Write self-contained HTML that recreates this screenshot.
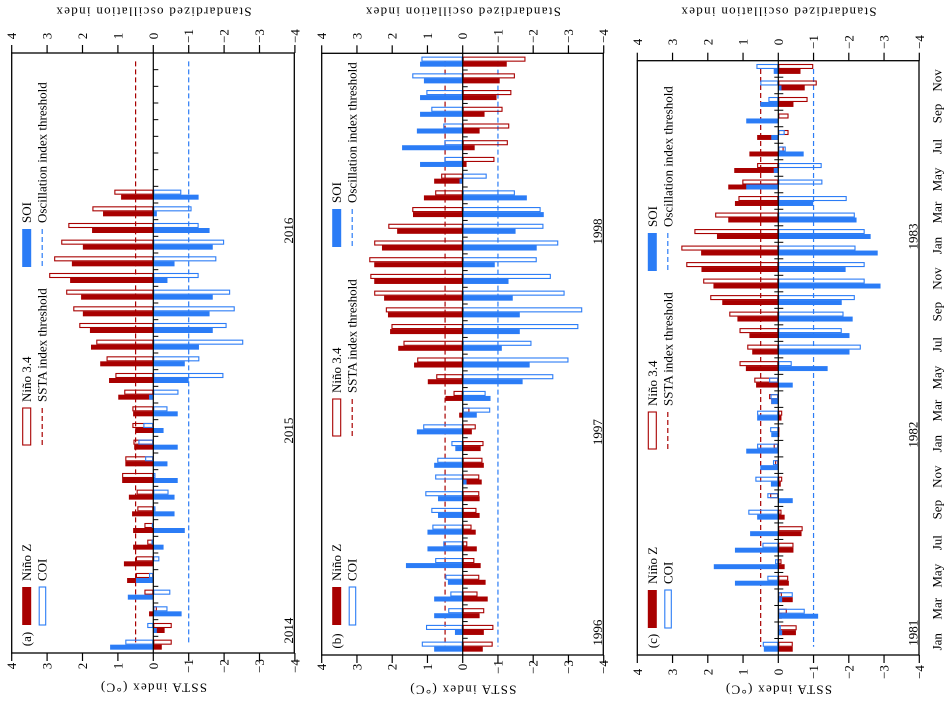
<!DOCTYPE html>
<html><head><meta charset="utf-8"><style>
html,body{margin:0;padding:0;background:#fff}
svg{display:block}
text{font-family:"Liberation Serif",serif;fill:#000}
</style></head><body>
<svg id="fig" width="951" height="701" viewBox="0 0 951 701" xmlns="http://www.w3.org/2000/svg"></svg>
<script>
// Panel (a) 2014-2016
const aNinoZ=[-0.24,-0.32,0.12,0,0.74,0.83,0.57,0.57,0.6,0.69,0.88,0.79,0.54,0.51,0.57,0.99,1.25,1.5,1.76,1.79,1.99,2.04,2.35,2.3,1.99,1.73,1.42,0.91,null,null,null,null,null,null,null,null];
const aNino34=[-0.52,-0.52,-0.1,0.25,0.49,0.49,0.17,0.25,0.45,0.47,0.88,0.79,0.56,0.59,0.59,0.82,1.07,1.32,1.61,2.09,2.26,2.46,2.94,2.8,2.6,2.4,1.72,1.1,null,null,null,null,null,null,null,null];
const aCOI=[0.79,0.17,-0.4,-0.48,0.12,-0.17,0.05,0.04,-0.06,-0.43,-0.06,0.23,0.42,0.28,-0.4,-0.71,-1.98,-1.3,-2.54,-2.07,-2.3,-2.17,-1.28,-1.78,-2.0,-1.28,-1.08,-0.79,null,null,null,null,null,null,null,null];
const aSOI=[1.22,-0.1,-0.8,0.72,0.49,0,-0.29,-0.89,-0.6,-0.6,-0.69,-0.4,-0.69,-0.29,-0.69,0.12,-1.0,-0.89,-1.29,-1.68,-1.59,-1.68,-0.4,-0.6,-1.68,-1.59,-0.1,-1.28,null,null,null,null,null,null,null,null];
// Panel (b) 1996-1998
const bNinoZ=[-0.57,-0.6,-0.48,-0.71,-0.65,-0.51,-0.4,-0.37,-0.48,-0.48,-0.54,-0.6,-0.51,-0.26,0.1,0.49,0.99,1.38,1.83,2.06,2.12,2.23,2.51,2.51,2.29,1.86,1.41,1.1,0.81,-0.11,-0.34,-0.48,-0.62,-0.96,-1.05,-1.25];
const bNino34=[-0.85,-0.87,-0.61,-0.42,-0.47,-0.33,-0.13,-0.25,-0.39,-0.47,-0.47,-0.56,-0.59,-0.37,-0.19,0.26,0.75,1.29,1.68,2.02,2.18,2.51,2.62,2.65,2.51,2.11,1.43,0.78,0.61,-0.9,-1.28,-1.32,-1.13,-1.38,-1.48,-1.78];
const bCOI=[1.16,1.04,0.41,0.35,0.49,0.78,0.55,0.86,0.89,1.06,0.78,0.72,0.32,1.12,-0.78,-0.65,-2.57,-3.0,-1.95,-3.28,-3.39,-2.89,-2.5,-2.1,-2.71,-2.29,-2.21,-1.48,-0.68,0.52,0.52,0.55,0.89,1.03,1.43,1.17];
const bSOI=[0.81,0.22,0.81,0.81,0.42,1.61,1.0,1.0,0.7,0.7,-0.11,0.81,0.21,1.3,-0.4,-0.79,-1.7,-1.9,-1.11,-1.62,-1.62,-1.42,-1.3,-0.91,-2.1,-1.5,-2.3,-1.82,0.09,1.21,1.72,1.3,1.21,1.21,1.1,1.21];
// Panel (c) 1981-1983
const cNinoZ=[-0.41,-0.5,-0.1,-0.41,-0.3,-0.18,-0.43,-0.66,-0.18,0,-0.07,0,0,-0.03,-0.09,0.2,0.63,0.92,0.74,0.82,1.16,1.59,1.84,2.18,2.19,1.74,1.42,1.23,1.42,1.25,0.82,0.6,0,-0.43,-0.75,-0.63];
const cNino34=[-0.41,-0.52,-0.24,-0.1,-0.28,-0.09,-0.43,-0.69,-0.09,0.23,-0.11,0.09,0.13,-0.03,-0.11,0.26,0.68,1.1,0.88,1.1,1.39,1.93,2.13,2.61,2.75,2.38,1.79,1.13,1.02,0.6,-0.15,-0.29,-0.29,-0.83,-1.09,-0.99];
const cCOI=[0.44,-0.07,-0.75,-0.41,0.31,0.09,0.45,0,0.85,0.31,0.65,0.15,0.6,0.23,0.6,0.22,0.26,-0.38,-2.34,-1.8,-1.85,-2.17,-2.45,-2.45,-2.19,-2.45,-2.17,-1.94,-1.25,-1.23,-0.21,-0.18,0,0.28,0.51,0.62];
const cSOI=[0.41,-0.11,-1.13,-0.11,1.23,1.83,1.23,0.8,0.6,-0.41,0.21,0.51,0.91,0.2,0.6,0.2,-0.41,-1.4,-2.02,-2.02,-2.11,-1.8,-2.9,-1.91,-2.82,-2.62,-2.22,-0.99,0.91,0.13,-0.72,0.2,0.91,0.51,-0.09,0.13];
const tickVals=[4,3,2,1,0,-1,-2,-3,-4];
const monthNames=["Jan","Mar","May","Jul","Sep","Nov"];
const aYears=["2014","2015","2016"];
const bYears=["1996","1997","1998"];
const cYears=["1981","1982","1983"];

const RED="#a80000", BLUE="#2b7cf6";
const svg=document.getElementById('fig');
const NS="http://www.w3.org/2000/svg";
function mk(tag,attrs,parent){const e=document.createElementNS(NS,tag);for(const k in attrs)e.setAttribute(k,attrs[k]);(parent||svg).appendChild(e);return e;}
function vtext(x,y,str,size,anchor,rot,color,parent){
  const t=mk('text',{x:x,y:y,'font-size':size,'text-anchor':anchor,'dominant-baseline':'central',transform:'rotate('+rot+' '+x+' '+y+')',fill:color||'#000'},parent);
  t.textContent=str;return t;}

const panels=[
 {id:'a',L:11.7,Z:153.3,R:294.3,T:53,B:653,nz:aNinoZ,n34:aNino34,coi:aCOI,soi:aSOI,years:aYears,g1:28,g2:208,g3:386,tl:36,bl:666,both:false,months:false},
 {id:'b',L:321.7,Z:462.7,R:603.3,T:53.3,B:655,nz:bNinoZ,n34:bNino34,coi:bCOI,soi:bSOI,years:bYears,g1:30,g2:219,g3:408,tl:36,bl:667,both:false,months:false},
 {id:'c',L:637.3,Z:778.3,R:919,T:60.7,B:655,nz:cNinoZ,n34:cNino34,coi:cCOI,soi:cSOI,years:cYears,g1:27,g2:206,g3:384,tl:42,bl:672,both:true,months:true}
];

panels.forEach(p=>{
  const g=mk('g',{});
  
  
  const unit=(p.Z-p.L)/4;
  const xs=v=>p.Z-v*unit;
  const n=36, h=(p.B-p.T)/n;
  const yC=k=>p.B-(k+0.5)*h;
  const th1=mk('line',{x1:xs(0.5),x2:xs(0.5),y1:yC(35),y2:yC(0),stroke:RED,'stroke-width':1.2,'stroke-dasharray':'5,3'},g);
  
  
  const th2=mk('line',{x1:xs(-1),x2:xs(-1),y1:yC(35),y2:yC(0),stroke:BLUE,'stroke-width':1.2,'stroke-dasharray':'5,3'},g);
  
  
  const bw=0.3*h;
  function bar(v,yy,filled,color,name){
    if(v===null||v===undefined)return;
    const x0=Math.min(xs(v),p.Z), w=Math.abs(xs(v)-p.Z);
    const r=mk('rect',filled?{x:x0,y:yy,width:w,height:bw,fill:color}:{x:x0+0.5,y:yy+0.5,width:Math.max(w-1,0),height:bw-1,fill:'none',stroke:color,'stroke-width':1.1},g);
    
    
  }
  for(let k=0;k<n;k++){
    const c=yC(k);
    bar(p.n34[k],c-bw,false,RED,'nino34-bar');
    bar(p.coi[k],c-bw,false,BLUE,'coi-bar');
    bar(p.nz[k],c,true,RED,'ninoz-bar');
    bar(p.soi[k],c,true,BLUE,'soi-bar');
  }
  const zl=mk('line',{x1:p.Z,x2:p.Z,y1:p.T,y2:p.B,stroke:'#000','stroke-width':1.2},g);
  
  
  for(let k=1;k<n;k++){
    const y=p.B-k*h;
    mk('line',{x1:p.both?p.Z-4:p.Z,x2:p.Z+5,y1:y,y2:y,stroke:'#000','stroke-width':1},g);
  }
  const fr=mk('rect',{x:p.L,y:p.T,width:p.R-p.L,height:p.B-p.T,fill:'none',stroke:'#000','stroke-width':1.3},g);
  
  
  tickVals.forEach(v=>{
    const x=xs(v);
    mk('line',{x1:x,x2:x,y1:p.B,y2:p.B+8,stroke:'#000','stroke-width':1.2},g);
    mk('line',{x1:x,x2:x,y1:p.T,y2:p.T-8,stroke:'#000','stroke-width':1.2},g);
    const lbl=v<0?'\u2212'+(-v):String(v);
    const t1=vtext(x,p.bl,lbl,13,'middle',-90,'#000',g);
    
    
    const t2=vtext(x,p.tl,lbl,13,'middle',-90,'#000',g);
    
    
  });
  const at1=vtext(p.Z,p.B+35,'SSTA index (\u00b0C)',13,'middle',180,'#000',g);
  at1.setAttribute('letter-spacing','1.3');
  
  
  const at2=vtext(p.Z,12,'Standardized oscillation index',13,'middle',180,'#000',g);
  at2.setAttribute('letter-spacing','1.3');
  
  
  p.years.forEach((yr,i)=>{
    const t=vtext(p.R-6,yC(i*12)-1,yr,13,'start',-90,'#000',g);
    
    
  });
  if(p.months){
    for(let yi=0;yi<3;yi++)for(let m=0;m<6;m++){
      const k=yi*12+m*2;
      const t=vtext(937,yC(k)-5,monthNames[m],13,'middle',-90,'#222',g);
      
      
    }
  }
  const pt=vtext(p.L+15,p.B-14,'('+p.id+')',13,'middle',-90,'#444',g);
  
  
  const c1=p.L+15, c2=p.L+30.5;
  const r1=mk('rect',{x:c1-4.5,y:p.B-p.g1-38,width:9,height:38,fill:RED},g);
  
  
  const r2=mk('rect',{x:c2-3,y:p.B-p.g1-38,width:6.5,height:38,fill:'none',stroke:BLUE,'stroke-width':1.1},g);
  
  
  const lt1=vtext(c1,p.B-p.g1-44,'Ni\u00f1o Z',13,'start',-90,'#444',g);
  
  
  const lt2=vtext(c2,p.B-p.g1-44,'COI',13,'start',-90,'#444',g);
  
  
  const r3=mk('rect',{x:c1-4,y:p.B-p.g2-37,width:8,height:37,fill:'none',stroke:RED,'stroke-width':1.1},g);
  
  
  const d1=mk('line',{x1:c2,x2:c2,y1:p.B-p.g2-37,y2:p.B-p.g2,stroke:RED,'stroke-width':1.2,'stroke-dasharray':'5,3'},g);
  
  
  const lt3=vtext(c1,p.B-p.g2-43,'Ni\u00f1o 3.4',13,'start',-90,'#444',g);
  
  
  const lt4=vtext(c2,p.B-p.g2-43,'SSTA index threshold',13,'start',-90,'#444',g);
  
  
  const r4=mk('rect',{x:c1-4.5,y:p.B-p.g3-38,width:9,height:38,fill:BLUE},g);
  
  
  const d2=mk('line',{x1:c2,x2:c2,y1:p.B-p.g3-38,y2:p.B-p.g3,stroke:BLUE,'stroke-width':1.2,'stroke-dasharray':'5,3'},g);
  
  
  const lt5=vtext(c1,p.B-p.g3-44,'SOI',13,'start',-90,'#444',g);
  
  
  const lt6=vtext(c2,p.B-p.g3-44,'Oscillation index threshold',13,'start',-90,'#444',g);
  
  
});
</script>
</body></html>
